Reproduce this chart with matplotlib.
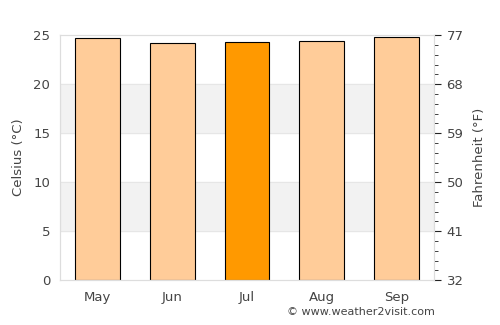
import numpy as np
import matplotlib
matplotlib.use('Agg')
import matplotlib.pyplot as plt

# Données
months = ['May', 'Jun', 'Jul', 'Aug', 'Sep']
temps_c = [24.75, 24.2, 24.3, 24.4, 24.85]
highlight = 'Jul'

fig = plt.figure(figsize=(5, 3.25), dpi=100)
ax = fig.add_axes([0.12, 0.138, 0.748, 0.754])

text_col = '#444444'
grid_col = '#dddddd'

# Bandes grises alternées
for lo in (5, 15):
    ax.axhspan(lo, lo + 5, color='#f2f2f2', zorder=0)
for y in (5, 10, 15, 20):
    ax.axhline(y, color='#e6e6e6', lw=0.8, zorder=0.5)

colors = ['#ff9900' if m == highlight else '#ffcc99' for m in months]
x = np.arange(len(months))
ax.bar(x, temps_c, width=0.6, color=colors, edgecolor='black', linewidth=0.8, zorder=2)

ax.set_xlim(-0.5, len(months) - 0.5)
ax.set_ylim(0, 25)
ax.set_xticks(x)
ax.set_xticklabels(months)
ax.set_yticks([0, 5, 10, 15, 20, 25])
ax.tick_params(axis='both', length=0, colors=text_col, labelsize=9.5, pad=8)
ax.tick_params(axis='y', pad=7)
ax.set_ylabel('Celsius (°C)', color=text_col, fontsize=9.5, labelpad=6)
for s in ax.spines.values():
    s.set_color(grid_col)

# Axe Fahrenheit
ax2 = ax.twinx()
ax2.set_ylim(32, 77)
ax2.set_yticks([32, 41, 50, 59, 68, 77])
ax2.set_yticks(np.arange(32, 77.1, 1.8), minor=True)
ax2.tick_params(axis='y', which='major', length=5, color='#222222', labelcolor=text_col,
                labelsize=9.5, pad=4)
ax2.tick_params(axis='y', which='minor', length=3, color='#222222')
ax2.set_ylabel('Fahrenheit (°F)', color=text_col, fontsize=9.5, labelpad=7)
for s in ax2.spines.values():
    s.set_color(grid_col)

fig.text(0.87, 0.025, '© www.weather2visit.com', ha='right', va='bottom',
         color=text_col, fontsize=8)

fig.savefig('out.png', dpi=100)
